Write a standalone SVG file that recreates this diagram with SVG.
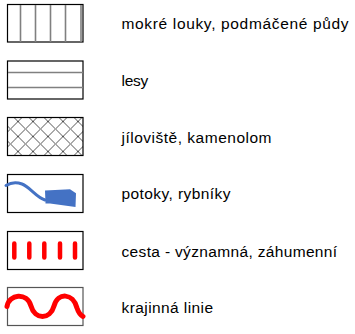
<svg xmlns="http://www.w3.org/2000/svg" width="355" height="334" viewBox="0 0 355 334">
<defs>
<style>
.box{fill:#fff;stroke:#000;stroke-width:1.2}
.gl{stroke:#808080;stroke-width:1.6;fill:none}
.hatch{stroke:#555;stroke-width:1;fill:none}
.lbl{font-family:"Liberation Sans",Arial,sans-serif;font-size:15.5px;fill:#000}
.red{stroke:#ff0000;fill:none;stroke-linecap:round}
</style>
<pattern id="xh" patternUnits="userSpaceOnUse" x="3" y="121.5" width="15" height="15">
<path class="hatch" d="M0,0L15,15M15,0L0,15"/>
</pattern>
</defs>
<rect width="355" height="334" fill="#fff"/>
<g id="wet">
<rect class="box" x="7.5" y="4.5" width="75.5" height="37.5"/>
<path class="gl" d="M20.5,5V42M35.5,5V42M50.5,5V42M65.5,5V42M81,5V42"/>
<text class="lbl" x="121.5" y="29" textLength="227">mokré louky, podmáčené půdy</text>
</g>
<g id="forest">
<rect class="box" x="7.5" y="61" width="75.5" height="38"/>
<path class="gl" d="M8,72.5H83M8,87.5H83"/>
<text class="lbl" x="121.5" y="86" textLength="26.7">lesy</text>
</g>
<g id="clay">
<rect x="7.5" y="117.5" width="75.5" height="38" fill="url(#xh)" stroke="#000" stroke-width="1.2"/>
<text class="lbl" x="121.5" y="142.5" textLength="150">jíloviště, kamenolom</text>
</g>
<g id="stream">
<rect class="box" x="7.5" y="174.5" width="75.5" height="38"/>
<path d="M6,185.5C10,183 15,181.5 22,184C30,187 36,197 45,200" stroke="#4472c4" stroke-width="3" fill="none" stroke-linecap="round"/>
<path d="M45,190.5L70,189.3L76,193.3L75.5,207L50,203.5L45.5,203.5Z" fill="#4472c4"/>
<text class="lbl" x="121.5" y="199" textLength="109">potoky, rybníky</text>
</g>
<g id="road">
<rect class="box" x="7.5" y="231.5" width="75.5" height="38"/>
<path class="red" stroke-width="4.5" d="M14.3,243.5V257.5M29.3,243.5V257.5M44.3,243.5V257.5M60,243.5V257.5M75,243.5V257.5"/>
<text class="lbl" x="121.5" y="256.5" textLength="215.6">cesta - významná, záhumenní</text>
</g>
<g id="line">
<rect x="7.5" y="287.5" width="75.5" height="38" fill="#fff" stroke="#555" stroke-width="1.2"/>
<path class="red" stroke-width="5" d="M7,306.5C9,294 27,292 31,306C35,320 50,320 54,306C58,292 73,293 77,308C79,314 81,315.5 83,316.5"/>
<text class="lbl" x="121.5" y="313" textLength="91.6">krajinná linie</text>
</g>
</svg>
